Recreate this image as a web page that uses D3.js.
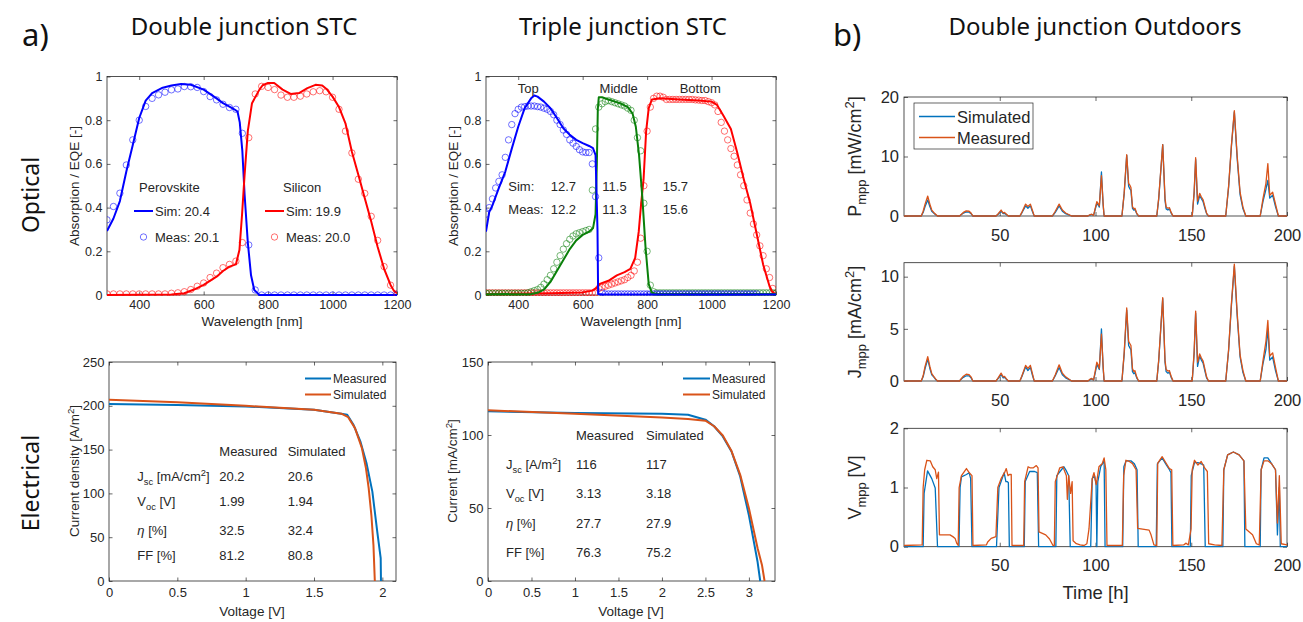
<!DOCTYPE html>
<html>
<head>
<meta charset="utf-8">
<script src="https://cdn.jsdelivr.net/npm/d3@7"></script>
<style>
  body { margin: 0; background: #fff; }
  text { font-family: "Liberation Sans", Arial, Helvetica, sans-serif; fill: #262626; }
  .ttl { font-family: "Noto Sans", "Open Sans", sans-serif; fill: #111; }
</style>
</head>
<body>
<svg id="chart" width="1303" height="622"></svg>
<script>
// ---------------- Optical, double junction (wavelength nm / absorption) ----------------
const djPerovSimWl = [300,320,340,360,380,400,420,440,470,500,530,560,600,640,660,680,695,705,712,720,727,737,747,757,773,1200];
const djPerovSim   = [0.293,0.35,0.43,0.565,0.687,0.81,0.89,0.924,0.947,0.959,0.966,0.962,0.94,0.90,0.878,0.862,0.85,0.84,0.79,0.66,0.46,0.24,0.09,0.023,0.0,0.0];
const djMeasWl = [300,320,340,360,380,400,420,440,460,480,500,520,540,560,580,600,620,640,660,680,700,720,740,760,780,800,820,840,860,880,900,920,940,960,980,1000,1020,1040,1060,1080,1100,1120,1140,1160,1180,1200];
const djPerovMeas = [0.344,0.405,0.466,0.595,0.71,0.80,0.863,0.90,0.916,0.928,0.939,0.943,0.954,0.953,0.95,0.931,0.908,0.893,0.873,0.858,0.85,0.74,0.229,0.023,0,0,0,0,0,0,0,0,0,0,0,0,0,0,0,0,0,0,0,0,0,0.003];
const djSiSimWl = [300,500,540,570,600,640,660,680,700,711,719,727,737,750,773,783,798,819,845,870,896,922,947,968,983,1000,1020,1040,1060,1080,1100,1120,1140,1160,1180,1190,1200];
const djSiSim   = [0,0.002,0.008,0.025,0.046,0.084,0.11,0.13,0.14,0.206,0.366,0.55,0.75,0.878,0.94,0.96,0.97,0.97,0.94,0.92,0.924,0.947,0.962,0.959,0.94,0.908,0.86,0.786,0.656,0.55,0.443,0.336,0.22,0.12,0.046,0.02,0.008];
const djSiMeas = [0.005,0.005,0.005,0.005,0.005,0.005,0.005,0.005,0.005,0.005,0.008,0.01,0.015,0.025,0.04,0.055,0.08,0.10,0.125,0.14,0.155,0.24,0.72,0.92,0.955,0.95,0.94,0.915,0.905,0.905,0.91,0.92,0.93,0.935,0.93,0.905,0.85,0.75,0.65,0.53,0.465,0.36,0.25,0.13,0.045,0.005];
const djLabels = { perov: ["Perovskite", "Sim: 20.4", "Meas: 20.1"], si: ["Silicon", "Sim: 19.9", "Meas: 20.0"] };

// ---------------- Optical, triple junction ----------------
const tjTopSimWl = [300,310,320,340,360,380,400,420,440,450,460,480,500,520,540,560,580,600,620,632,640,646,648,660,1200];
const tjTopSim   = [0.29,0.38,0.41,0.49,0.565,0.67,0.77,0.855,0.90,0.913,0.908,0.885,0.855,0.81,0.763,0.733,0.71,0.695,0.682,0.672,0.64,0.30,0.005,0.003,0.002];
const tjMidSimWl = [300,440,460,480,500,520,540,560,580,600,620,632,640,644,647,650,660,680,700,720,740,755,765,775,785,795,805,815,830,1200];
const tjMidSim   = [0.003,0.005,0.01,0.025,0.06,0.11,0.16,0.21,0.25,0.275,0.29,0.305,0.37,0.6,0.85,0.905,0.905,0.895,0.885,0.875,0.86,0.83,0.77,0.64,0.45,0.22,0.05,0.01,0.005,0.005];
const tjBotSimWl = [300,500,600,630,645,648,655,680,706,730,748,763,774,781,789,797,805,815,840,900,960,1000,1017,1037,1060,1080,1100,1120,1140,1160,1180,1190,1200];
const tjBotSim   = [0.005,0.008,0.012,0.02,0.035,0.045,0.052,0.065,0.09,0.105,0.12,0.17,0.29,0.41,0.53,0.75,0.855,0.895,0.90,0.895,0.89,0.885,0.87,0.82,0.76,0.65,0.53,0.42,0.28,0.14,0.04,0.01,0.005];
const tjMeasWl = d3.range(300, 1201, 10);
const tjTopMeas = [0.37,0.40,0.44,0.49,0.52,0.55,0.63,0.71,0.78,0.83,0.85,0.86,0.862,0.865,0.865,0.865,0.862,0.86,0.855,0.85,0.84,0.825,0.80,0.78,0.755,0.735,0.71,0.695,0.68,0.665,0.655,0.652,0.652,0.60,0.45,0.17,0.01,
  0.005,0.005,0.005,0.005,0.005,0.005,0.005,0.005,0.005,0.005,0.005,0.005,0.005,0.005,0.005,0.005,0.005,0.005,0.005,0.005,0.005,0.005,0.005,0.005,0.005,0.005,0.005,0.005,0.005,0.005,0.005,0.005,0.005,0.005,0.005,0.005,0.005,0.005,0.005,0.005,0.005,0.005,0.005,0.005,0.005,0.005,0.005,0.005];
const tjMidMeas = [0.008,0.008,0.008,0.008,0.008,0.008,0.008,0.008,0.008,0.008,0.008,0.008,0.008,
  0.01,0.015,0.02,0.025,0.035,0.05,0.07,0.09,0.12,0.15,0.18,0.21,0.235,0.255,0.27,0.28,0.285,0.29,0.295,0.30,0.48,0.76,0.86,0.875,0.885,0.89,0.885,0.88,0.875,0.87,0.865,0.855,0.845,0.80,0.72,0.66,0.42,0.20,0.045,0.015,
  0.01,0.01,0.01,0.01,0.01,0.01,0.01,0.01,0.01,0.01,0.01,0.01,0.01,0.01,0.01,0.01,0.01,0.01,0.01,0.01,0.01,0.01,0.01,0.01,0.01,0.01,0.01,0.01,0.01,0.01,0.01,0.01,0.01,0.01,0.01,0.01,0.01,0.01];
const tjBotMeas = [0.01,0.01,0.01,0.01,0.01,0.01,0.01,0.01,0.01,0.01,0.01,0.01,0.01,0.01,0.01,0.01,0.01,0.01,0.01,0.01,0.01,0.01,0.01,0.01,0.01,0.01,0.01,0.01,0.01,0.01,0.01,0.01,0.01,0.01,0.01,
  0.03,0.035,0.04,0.045,0.05,0.055,0.06,0.065,0.07,0.08,0.09,0.11,0.15,0.26,0.50,0.75,0.86,0.90,0.91,0.91,0.905,0.895,0.895,0.895,0.895,0.895,0.895,0.895,0.895,0.895,0.893,0.892,0.89,0.89,0.885,0.88,0.87,0.84,0.79,0.75,0.71,0.67,0.635,0.595,0.55,0.50,0.435,0.375,0.325,0.275,0.225,0.18,0.12,0.08,0.03,0.008];
const tjLabels = { heads: ["Top", "Middle", "Bottom"], sim: ["Sim:", "12.7", "11.5", "15.7"], meas: ["Meas:", "12.2", "11.3", "15.6"] };

// ---------------- Electrical, J-V curves ----------------
const djMeasV = [0,0.5,1.0,1.5,1.7,1.743,1.79,1.84,1.885,1.927,1.963,1.988,1.99];
const djMeasJ = [202,201,199.3,195.5,191,189.8,178,159,134,102,56,26,0];
const djSimV  = [0,0.5,1.0,1.5,1.7,1.75,1.8,1.85,1.88,1.9,1.92,1.935,1.945];
const djSimJ  = [207,204,200,195.5,191,187,174.5,152,129,106,75,41,0];
const tjMeasV = [0,1,2,2.3,2.5,2.6,2.7,2.8,2.9,3.0,3.05,3.1,3.13];
const tjMeasJ = [116.2,115,114.6,113.9,110.5,106,99,88.7,71.6,45,29,13,0];
const tjSimV  = [0,1,2,2.3,2.5,2.6,2.7,2.8,2.9,3.0,3.1,3.15,3.18];
const tjSimJ  = [116.9,114.6,112,111,109.8,106,99.7,89,72.7,49.8,22.4,11,0];
const djTable = [["20.2","20.6"],["1.99","1.94"],["32.5","32.4"],["81.2","80.8"]];
const tjTable = [["116","117"],["3.13","3.18"],["27.7","27.9"],["76.3","75.2"]];

// ---------------- Outdoor time series [hour, value] ----------------
const pMeas = [[0,0],[9,0],[10,0.8],[11,2.0],[12.4,3.35],[13.5,2.0],[14.5,1.0],[15.5,0.6],[16.5,0.3],[17.5,0],
  [29,0],[30,0.3],[31,0.6],[32.5,0.85],[34,0.8],[35,0.5],[36,0],
  [48,0],[49,0.3],[50.7,1.0],[51.8,0.5],[52.5,0.6],[53.5,0.3],[54.5,0],
  [60.5,0],[61.5,0.6],[63.5,2.0],[64.7,1.6],[66,2.0],[67,1.0],[68,0],
  [77.5,0],[79,0.8],[81,2.0],[82.7,1.0],[84.4,0.5],[86,0.25],[87.5,0],
  [96,0],[97,0.2],[98,0.3],[99,0.1],[100,1.5],[100.7,2.4],[101.5,2.0],[102,1.7],[103.1,6.8],[104,2],[104.5,0],
  [113.8,0],[115,4],[116.3,10.3],[117.3,5.5],[117.9,5.2],[118.5,4.8],[119.3,1.6],[120,1.2],[120.6,1.3],[121.5,0.5],[122.5,0],
  [132,0],[133,3],[135.1,12.0],[136.3,3],[136.9,1.5],[137.8,1.3],[138.6,1.4],[139.5,0.6],[140.5,0],
  [150.5,0],[151.5,4],[152.3,9.8],[153.3,2.5],[154.4,3.8],[155.3,3.2],[156.2,2.7],[157.2,1.5],[158,0.5],[159,0],
  [168,0],[169.5,5],[171,12],[172.5,17.7],[174,10],[175.5,4],[177,1.5],[178.5,0],
  [186,0],[187.5,3],[189,5.5],[190,8.8],[191,3.5],[192.5,4],[194,2],[195.5,0],[200,0]];
const pSim = [[0,0],[9,0],[10,0.6],[11,1.6],[12.4,2.7],[13.5,1.6],[14.5,0.8],[15.5,0.5],[16.5,0.2],[17.5,0],
  [29,0],[30,0.25],[31,0.5],[32.5,0.7],[34,0.65],[35,0.4],[36,0],
  [48,0],[49,0.25],[50.7,0.8],[51.8,0.4],[52.5,0.45],[53.5,0.2],[54.5,0],
  [60.5,0],[61.5,0.5],[63.5,1.7],[64.7,1.3],[66,1.7],[67,0.8],[68,0],
  [77.5,0],[79,0.6],[81,1.7],[82.7,0.8],[84.4,0.4],[86,0.2],[87.5,0],
  [96,0],[97,0.15],[98,0.25],[99,0.1],[100,1.3],[100.7,2.1],[101.5,1.8],[102,1.5],[103.1,7.4],[104,1.8],[104.5,0],
  [113.8,0],[115,3.8],[116.3,10.2],[117.3,5.0],[117.9,4.6],[118.5,4.3],[119.3,1.3],[120,1.0],[120.6,1.1],[121.5,0.4],[122.5,0],
  [132,0],[133,2.8],[135.1,12.0],[136.3,2.6],[136.9,1.2],[137.8,1.0],[138.6,1.2],[139.5,0.5],[140.5,0],
  [150.5,0],[151.5,3.8],[152.3,9.5],[153.3,2.0],[154.4,3.4],[155.3,2.9],[156.2,2.4],[157.2,1.2],[158,0.4],[159,0],
  [168,0],[169.5,4.8],[171,11.8],[172.5,17.5],[174,9.6],[175.5,3.6],[177,1.2],[178.5,0],
  [186,0],[187.5,2.5],[189,4.5],[190,6.0],[191,3.0],[192.5,3.5],[194,1.6],[195.5,0],[200,0]];
const jMeas = [[0,0],[9,0],[10,0.5],[11,1.4],[12.4,2.33],[13.5,1.4],[14.5,0.7],[15.5,0.45],[16.5,0.2],[17.5,0],
  [29,0],[30,0.25],[31,0.45],[32.5,0.65],[34,0.6],[35,0.4],[36,0],
  [48,0],[49,0.25],[50.7,0.75],[51.8,0.4],[52.5,0.45],[53.5,0.2],[54.5,0],
  [60.5,0],[61.5,0.45],[63.5,1.5],[64.7,1.2],[66,1.5],[67,0.75],[68,0],
  [77.5,0],[79,0.6],[81,1.55],[82.7,0.75],[84.4,0.4],[86,0.2],[87.5,0],
  [96,0],[97,0.15],[98,0.25],[99,0.1],[100,1.1],[100.7,1.8],[101.5,1.5],[102,1.2],[103.1,4.5],[104,1.4],[104.5,0],
  [113.8,0],[115,2.8],[116.3,7.0],[117.3,3.8],[117.9,3.6],[118.5,3.4],[119.3,1.2],[120,0.9],[120.6,1.0],[121.5,0.4],[122.5,0],
  [132,0],[133,2],[135.1,8.0],[136.3,2.0],[136.9,1.1],[137.8,0.95],[138.6,1.0],[139.5,0.45],[140.5,0],
  [150.5,0],[151.5,2.8],[152.3,6.7],[153.3,1.8],[154.4,2.6],[155.3,2.2],[156.2,1.9],[157.2,1.1],[158,0.4],[159,0],
  [168,0],[169.5,3],[171,7.5],[172.5,11.2],[174,6.5],[175.5,2.5],[177,1],[178.5,0],
  [186,0],[187.5,2],[189,3.8],[190,5.8],[191,2.4],[192.5,2.7],[194,1.3],[195.5,0],[200,0]];
const jSim = [[0,0],[9,0],[10,0.4],[11,1.2],[12.4,2.1],[13.5,1.2],[14.5,0.6],[15.5,0.4],[16.5,0.15],[17.5,0],
  [29,0],[30,0.2],[31,0.35],[32.5,0.5],[34,0.5],[35,0.3],[36,0],
  [48,0],[49,0.2],[50.7,0.6],[51.8,0.3],[52.5,0.35],[53.5,0.15],[54.5,0],
  [60.5,0],[61.5,0.4],[63.5,1.35],[64.7,1.0],[66,1.3],[67,0.6],[68,0],
  [77.5,0],[79,0.5],[81,1.3],[82.7,0.6],[84.4,0.3],[86,0.15],[87.5,0],
  [96,0],[97,0.1],[98,0.2],[99,0.08],[100,0.9],[100.7,1.6],[101.5,1.3],[102,1.1],[103.1,5.0],[104,1.2],[104.5,0],
  [113.8,0],[115,2.6],[116.3,6.8],[117.3,3.4],[117.9,3.2],[118.5,3.0],[119.3,0.9],[120,0.7],[120.6,0.8],[121.5,0.3],[122.5,0],
  [132,0],[133,1.9],[135.1,7.9],[136.3,1.8],[136.9,0.9],[137.8,0.75],[138.6,0.85],[139.5,0.35],[140.5,0],
  [150.5,0],[151.5,2.6],[152.3,6.5],[153.3,1.4],[154.4,2.4],[155.3,2.0],[156.2,1.7],[157.2,0.9],[158,0.3],[159,0],
  [168,0],[169.5,2.9],[171,7.3],[172.5,11.0],[174,6.2],[175.5,2.3],[177,0.8],[178.5,0],
  [186,0],[187.5,1.7],[189,3.0],[190,5.0],[191,2.0],[192.5,2.3],[194,1.0],[195.5,0],[200,0]];
const vMeas = [[0,0.02],[9.5,0.03],[10,1.0],[10.8,1.3],[11.9,1.46],[13.7,1.45],[15,1.35],[16.3,1.3],[17.1,1.15],[18,1.26],[18.5,0.2],[24,0.2],[25.5,0.17],[26.7,0.14],[27.5,0.06],[28.3,0.02],
  [28.8,1.0],[30,1.2],[31.5,1.27],[32.6,1.32],[34.3,1.24],[35.5,1.2],[36,0.02],[43,0.03],[43.7,0.08],[45.5,0.14],[48,0.17],
  [49,1.0],[50.7,1.15],[52.5,1.25],[53.4,1.32],[54.3,1.2],[55.1,1.22],[56,1.22],[56.4,0.02],[62.5,0.02],
  [63,1.1],[64.8,1.35],[66,1.33],[67.4,1.33],[69.1,1.37],[70,1.33],[70.5,0.25],[74,0.2],[76,0.13],[77.8,0.02],[78.5,0.02],
  [79,1.1],[81.3,1.33],[83,1.35],[84.8,1.2],[85.3,0.8],[86,1.2],[87,0.9],[87.8,1.1],[88.3,0.1],[90,0.05],[92,0.03],[94,0.02],[95.5,0.05],[96.6,0.3],
  [98.3,1.15],[99.2,1.25],[100.4,1.05],[101.8,1.35],[102.7,1.38],[103.5,1.4],[104.5,1.5],[105.4,1.3],[106,0.02],[114,0.02],
  [114.7,1.2],[115.9,1.46],[117.7,1.44],[119.4,1.4],[121.2,1.3],[122,0.31],[128,0.28],[129,0.2],[130.5,0.03],[132,0.02],
  [132.5,1.41],[134.8,1.52],[136.9,1.41],[138.6,1.32],[139.8,1.3],[140.4,0.02],[146,0.03],[147.3,0.06],[148.5,0.03],[149.9,0.3],
  [150.5,1.3],[151.7,1.46],[153.5,1.38],[155.2,1.44],[157,1.33],[158.4,1.27],[159.1,0.05],[162.2,0.03],[166,0.02],
  [167,1.3],[169,1.55],[172,1.6],[175,1.55],[177.5,1.45],[178.5,0.3],[182,0.2],[184,0.05],[185.5,0.03],
  [186.5,1.3],[188,1.45],[190,1.45],[192,1.4],[194,1.3],[195,0.4],[196,1.2],[197,0.05],[200,0.03]];
const vSim = [[0,0],[10,0],[10.5,0.9],[12.3,1.28],[14.5,1.15],[16.3,0.99],[17.5,0],[28.7,0],
  [29.3,1.0],[30,1.18],[32.6,1.22],[34,1.25],[34.8,1.15],[35.5,0],[48.3,0],
  [49.6,1.0],[52.3,1.25],[53.2,1.1],[54,1.1],[54.5,1.08],[55,0],[62.8,0],
  [63.3,1.1],[65.6,1.27],[68.2,1.27],[69.6,1.25],[70.3,0],[79.3,0],
  [79.8,1.2],[82.2,1.3],[83.5,1.35],[84.8,1.28],[86,1.2],[86.8,0],[97.5,0],
  [98.3,1.15],[99.5,1.2],[100.3,1.05],[100.7,0],[101.2,1.1],[102.7,1.35],[104.5,1.45],[105,0],[114.2,0],
  [114.8,1.35],[116,1.45],[118.5,1.45],[120.3,1.4],[121.7,1.3],[122.3,0],[131.7,0],
  [132.3,1.4],[134.8,1.5],[137,1.38],[138.6,1.3],[139.4,1.25],[139.9,0],[149.5,0],
  [150,1.2],[151.7,1.42],[153.5,1.42],[155.2,1.4],[156.5,1.38],[157.3,0],[166.5,0],
  [167,1.3],[169,1.55],[172,1.6],[175,1.55],[177.5,1.45],[178,0],[186,0],
  [186.5,1.3],[188,1.5],[190,1.5],[192,1.4],[194,1.3],[195,0.2],[196,1.0],[196.5,0],[200,0]];

// ---------------- shared drawing helpers ----------------
const svg = d3.select("#chart");
const AX = "#262626";

function panel(box, xd, yd, o) {
  const x = d3.scaleLinear().domain(xd).range([box.x0, box.x1]);
  const y = d3.scaleLinear().domain(yd).range([box.y1, box.y0]);
  const g = svg.append("g");
  const fs = o.fs, tl = o.tl || 3.5;
  const fmt = d3.format("~g");
  const mk = (axis, tr, lbl, pad) => {
    const a = g.append("g").attr("transform", tr)
      .call(axis.tickSize(-tl).tickPadding(pad).tickFormat(lbl ? fmt : ""));
    a.select(".domain").remove();
    a.selectAll("line").attr("stroke", AX).attr("stroke-width", 0.7);
    a.selectAll("text").attr("font-size", fs).attr("fill", AX)
      .style("font-family", '"Liberation Sans", Arial, sans-serif');
    return a;
  };
  mk(d3.axisBottom(x).tickValues(o.xt), `translate(0,${box.y1})`, true, o.padX);
  mk(d3.axisTop(x).tickValues(o.xt), `translate(0,${box.y0})`, false, 0);
  mk(d3.axisLeft(y).tickValues(o.yt), `translate(${box.x0},0)`, true, o.padY);
  mk(d3.axisRight(y).tickValues(o.yt), `translate(${box.x1},0)`, false, 0);
  g.append("rect").attr("x", box.x0).attr("y", box.y0)
    .attr("width", box.x1 - box.x0).attr("height", box.y1 - box.y0)
    .attr("fill", "none").attr("stroke", AX).attr("stroke-width", 0.8);
  const id = "clip" + Math.round(box.x0) + "_" + Math.round(box.y0);
  svg.append("clipPath").attr("id", id).append("rect")
    .attr("x", box.x0).attr("y", box.y0 - 1).attr("width", box.x1 - box.x0).attr("height", box.y1 - box.y0 + 2);
  const plot = svg.append("g").attr("clip-path", `url(#${id})`);
  return { x, y, g, plot };
}

function line(p, xs, ys, color, w) {
  const pts = xs.map((d, i) => [d, ys[i]]);
  pairLine(p, pts, color, w);
}
function pairLine(p, pts, color, w) {
  p.plot.append("path").datum(pts)
    .attr("d", d3.line().x(d => p.x(d[0])).y(d => p.y(d[1])))
    .attr("fill", "none").attr("stroke", color).attr("stroke-width", w)
    .attr("stroke-linejoin", "round");
}
function circles(p, xs, ys, color) {
  p.plot.selectAll(null).data(xs.map((d, i) => [d, ys[i]])).enter().append("circle")
    .attr("cx", d => p.x(d[0])).attr("cy", d => p.y(d[1])).attr("r", 3.2)
    .attr("fill", "none").attr("stroke", color).attr("stroke-width", 0.8).attr("stroke-opacity", 0.7);
}
// text with sub/superscript segments
function rich(sel, parts, fs) {
  let shift = 0;
  parts.forEach(p => {
    const target = p.sub ? fs * 0.3 : p.sup ? -fs * 0.38 : 0;
    sel.append("tspan").attr("dy", target - shift)
      .attr("font-size", (p.sub || p.sup) ? fs * 0.72 : fs).text(p.t);
    shift = target;
  });
  return sel;
}
function txt(x, y, s, fs, anchor, extra) {
  const t = svg.append("text").attr("x", x).attr("y", y).attr("font-size", fs)
    .attr("text-anchor", anchor || "start").text(s);
  if (extra) extra(t);
  return t;
}
function ylabel(x, y, parts, fs) {
  const t = svg.append("text").attr("transform", `translate(${x},${y}) rotate(-90)`)
    .attr("text-anchor", "middle").attr("font-size", fs);
  rich(t, parts, fs);
}

// ---------------- titles ----------------
txt(22, 46, "a)", 31, "start", t => t.attr("class", "ttl"));
txt(833, 46, "b)", 31, "start", t => t.attr("class", "ttl"));
txt(244, 35, "Double junction STC", 24, "middle", t => t.attr("class", "ttl"));
txt(623, 35, "Triple junction STC", 24, "middle", t => t.attr("class", "ttl"));
txt(1095, 35, "Double junction Outdoors", 24, "middle", t => t.attr("class", "ttl"));
svg.append("text").attr("class", "ttl").attr("transform", "translate(39,195) rotate(-90)")
  .attr("text-anchor", "middle").attr("font-size", 23).text("Optical");
svg.append("text").attr("class", "ttl").attr("transform", "translate(39,483) rotate(-90)")
  .attr("text-anchor", "middle").attr("font-size", 23).text("Electrical");

// ---------------- optical double junction ----------------
const BLUE = "#0000ff", RED = "#ff0000", GREEN = "#0a800a";
const optTicksX = [400, 600, 800, 1000, 1200], optTicksY = [0, 0.2, 0.4, 0.6, 0.8, 1];
const p1 = panel({ x0: 107, x1: 397, y0: 76.5, y1: 295 }, [300, 1200], [0, 1],
  { xt: optTicksX, yt: optTicksY, fs: 12.5, padX: 5, padY: 4.5 });
line(p1, djPerovSimWl, djPerovSim, BLUE, 2);
line(p1, djSiSimWl, djSiSim, RED, 2);
circles(p1, djMeasWl, djPerovMeas, BLUE);
circles(p1, djMeasWl, djSiMeas, RED);
ylabel(79, 186, [{ t: "Absorption / EQE [-]" }], 13.5);
txt(252, 326, "Wavelength [nm]", 13.5, "middle");
txt(139, 191.5, djLabels.perov[0], 13);
svg.append("line").attr("x1", 134).attr("x2", 153).attr("y1", 211).attr("y2", 211).attr("stroke", BLUE).attr("stroke-width", 2);
txt(155, 216.2, djLabels.perov[1], 13);
svg.append("circle").attr("cx", 143.5).attr("cy", 237).attr("r", 3.2).attr("fill", "none").attr("stroke", BLUE).attr("stroke-width", 0.8).attr("stroke-opacity", 0.7);
txt(155, 241.8, djLabels.perov[2], 13);
txt(283, 191.5, djLabels.si[0], 13);
svg.append("line").attr("x1", 265).attr("x2", 284).attr("y1", 211).attr("y2", 211).attr("stroke", RED).attr("stroke-width", 2);
txt(286, 216.2, djLabels.si[1], 13);
svg.append("circle").attr("cx", 274.5).attr("cy", 237).attr("r", 3.2).attr("fill", "none").attr("stroke", RED).attr("stroke-width", 0.8).attr("stroke-opacity", 0.7);
txt(286, 241.8, djLabels.si[2], 13);

// ---------------- optical triple junction ----------------
const p2 = panel({ x0: 486, x1: 776, y0: 76.5, y1: 295 }, [300, 1200], [0, 1],
  { xt: optTicksX, yt: optTicksY, fs: 12.5, padX: 5, padY: 4.5 });
circles(p2, tjMeasWl, tjBotMeas, RED);
circles(p2, tjMeasWl, tjMidMeas, GREEN);
circles(p2, tjMeasWl, tjTopMeas, BLUE);
line(p2, tjBotSimWl, tjBotSim, RED, 2);
line(p2, tjMidSimWl, tjMidSim, GREEN, 2);
line(p2, tjTopSimWl, tjTopSim, BLUE, 2);
ylabel(458, 186, [{ t: "Absorption / EQE [-]" }], 13.5);
txt(631, 326, "Wavelength [nm]", 13.5, "middle");
[528.3, 618.7, 700.3].forEach((x, i) => txt(x, 93, tjLabels.heads[i], 13, "middle"));
[508.3, 550.7, 602.3, 662.7].forEach((x, i) => {
  txt(x, 191.4, tjLabels.sim[i], 13);
  txt(x, 213.7, tjLabels.meas[i], 13);
});

// ---------------- electrical double junction ----------------
const MBLUE = "#0072BD", MORANGE = "#D95319";
const p3 = panel({ x0: 109, x1: 396, y0: 362, y1: 581 }, [0, 2.1], [0, 250],
  { xt: [0, 0.5, 1, 1.5, 2], yt: [0, 50, 100, 150, 200, 250], fs: 13, padX: 7, padY: 4.5 });
line(p3, djMeasV, djMeasJ, MBLUE, 2);
line(p3, djSimV, djSimJ, MORANGE, 2);
ylabel(79, 471, [{ t: "Current density [A/m" }, { t: "2", sup: true }, { t: "]" }], 13.5);
txt(252, 616, "Voltage [V]", 13.5, "middle");

function legendJV(x1, x2, tx) {
  svg.append("line").attr("x1", x1).attr("x2", x2).attr("y1", 378.5).attr("y2", 378.5).attr("stroke", MBLUE).attr("stroke-width", 2);
  txt(tx, 383, "Measured", 12);
  svg.append("line").attr("x1", x1).attr("x2", x2).attr("y1", 394.5).attr("y2", 394.5).attr("stroke", MORANGE).attr("stroke-width", 2);
  txt(tx, 399, "Simulated", 12);
}
legendJV(305, 331, 333);

function table(xl, c1, c2, yh, rows, vals, jUnit) {
  txt(c1, yh, "Measured", 13);
  txt(c2, yh, "Simulated", 13);
  const j = svg.append("text").attr("x", xl).attr("y", rows[0]).attr("font-size", 13);
  rich(j, jUnit, 13);
  const v = svg.append("text").attr("x", xl).attr("y", rows[1]).attr("font-size", 13);
  rich(v, [{ t: "V" }, { t: "oc", sub: true }, { t: " [V]" }], 13);
  const e = svg.append("text").attr("x", xl).attr("y", rows[2]).attr("font-size", 13);
  e.append("tspan").attr("font-style", "italic").text("η");
  e.append("tspan").text(" [%]");
  txt(xl, rows[3], "FF [%]", 13);
  vals.forEach((r, i) => { txt(c1, rows[i], r[0], 13); txt(c2, rows[i], r[1], 13); });
}
table(137.3, 219.3, 287.7, 455.7, [481.4, 506.4, 534.7, 560.4], djTable,
  [{ t: "J" }, { t: "sc", sub: true }, { t: " [mA/cm" }, { t: "2", sup: true }, { t: "]" }]);

// ---------------- electrical triple junction ----------------
const p4 = panel({ x0: 488, x1: 775, y0: 362, y1: 581 }, [0, 3.3], [0, 150],
  { xt: [0, 0.5, 1, 1.5, 2, 2.5, 3], yt: [0, 50, 100, 150], fs: 13, padX: 7, padY: 4.5 });
line(p4, tjMeasV, tjMeasJ, MBLUE, 2);
line(p4, tjSimV, tjSimJ, MORANGE, 2);
ylabel(457, 471, [{ t: "Current [mA/cm" }, { t: "2", sup: true }, { t: "]" }], 13.5);
txt(631, 616, "Voltage [V]", 13.5, "middle");
legendJV(683, 710, 712);
table(506, 576, 646, 440.4, [469, 498, 528, 557], tjTable,
  [{ t: "J" }, { t: "sc", sub: true }, { t: " [A/m" }, { t: "2", sup: true }, { t: "]" }]);

// ---------------- outdoor panels ----------------
const tTicks = [50, 100, 150, 200];
const rOpt = (yt) => ({ xt: tTicks, yt, fs: 16.5, padX: 13, padY: 5, tl: 4 });
const r1 = panel({ x0: 904, x1: 1287, y0: 97, y1: 216 }, [0, 200], [0, 20], rOpt([0, 10, 20]));
pairLine(r1, pSim, MBLUE, 1.3);
pairLine(r1, pMeas, MORANGE, 1.3);
const r2 = panel({ x0: 904, x1: 1287, y0: 262.7, y1: 381 }, [0, 200], [0, 11.34], rOpt([0, 5, 10]));
pairLine(r2, jSim, MBLUE, 1.3);
pairLine(r2, jMeas, MORANGE, 1.3);
const r3 = panel({ x0: 904, x1: 1287, y0: 428.3, y1: 546.7 }, [0, 200], [0, 2], rOpt([0, 1, 2]));
pairLine(r3, vSim, MBLUE, 1.3);
pairLine(r3, vMeas, MORANGE, 1.3);

ylabel(861, 156.5, [{ t: "P" }, { t: "mpp", sub: true }, { t: " [mW/cm" }, { t: "2", sup: true }, { t: "]" }], 18);
ylabel(861, 322, [{ t: "J" }, { t: "mpp", sub: true }, { t: " [mA/cm" }, { t: "2", sup: true }, { t: "]" }], 18);
ylabel(861, 487.5, [{ t: "V" }, { t: "mpp", sub: true }, { t: " [V]" }], 18);
txt(1095.5, 598.5, "Time [h]", 18.5, "middle");

// legend of the outdoor panels
svg.append("rect").attr("x", 914).attr("y", 103).attr("width", 119).attr("height", 46)
  .attr("fill", "#fff").attr("stroke", AX).attr("stroke-width", 0.7);
svg.append("line").attr("x1", 919).attr("x2", 955).attr("y1", 116.5).attr("y2", 116.5).attr("stroke", MBLUE).attr("stroke-width", 1.3);
txt(957, 123, "Simulated", 16.5);
svg.append("line").attr("x1", 919).attr("x2", 955).attr("y1", 137.5).attr("y2", 137.5).attr("stroke", MORANGE).attr("stroke-width", 1.3);
txt(957, 144, "Measured", 16.5);
</script>
</body>
</html>
